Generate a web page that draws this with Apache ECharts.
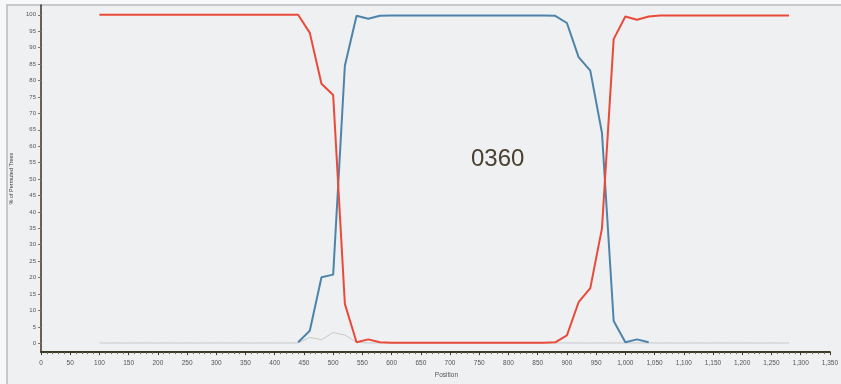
<!DOCTYPE html>
<html>
<head>
<meta charset="utf-8">
<script src="https://cdn.jsdelivr.net/npm/echarts@6/dist/echarts.min.js"></script>
<style>
  html, body { margin: 0; padding: 0; background: #f6f7f8; }
  #main { width: 841px; height: 384px; }
</style>
</head>
<body>
<div id="main"></div>
<script>
// window positions (bootscan, step 20)
const positions = [100, 120, 140, 160, 180, 200, 220, 240, 260, 280, 300, 320, 340, 360, 380, 400, 420, 440, 460, 480,
  500, 520, 540, 560, 580, 600, 620, 640, 660, 680, 700, 720, 740, 760, 780, 800, 820, 840, 860, 880,
  900, 920, 940, 960, 980, 1000, 1020, 1040, 1060, 1080, 1100, 1120, 1140, 1160, 1180, 1200, 1220, 1240, 1260, 1280];

const redValues = [100, 100, 100, 100, 100, 100, 100, 100, 100, 100, 100, 100, 100, 100, 100, 100, 100, 100, 94.5, 79,
  75.6, 12, 0.3, 1.2, 0.3, 0.2, 0.2, 0.2, 0.2, 0.2, 0.2, 0.2, 0.2, 0.2, 0.2, 0.2, 0.2, 0.2, 0.2, 0.3,
  2.4, 12.5, 16.8, 35, 92.6, 99.5, 98.5, 99.5, 99.8, 99.8, 99.8, 99.8, 99.8, 99.8, 99.8, 99.8, 99.8, 99.8, 99.8, 99.8];

const blueValues = [null, null, null, null, null, null, null, null, null, null, null, null, null, null, null, null, null, 0.3, 3.8, 20.1,
  20.9, 84.5, 99.7, 98.8, 99.7, 99.8, 99.8, 99.8, 99.8, 99.8, 99.8, 99.8, 99.8, 99.8, 99.8, 99.8, 99.8, 99.8, 99.8, 99.7,
  97.5, 87.1, 83, 64, 6.8, 0.3, 1.2, 0.3, null, null, null, null, null, null, null, null, null, null, null, null];

const grayValues = [0.1, 0.1, 0.1, 0.1, 0.1, 0.1, 0.1, 0.1, 0.1, 0.1, 0.1, 0.1, 0.1, 0.1, 0.1, 0.1, 0.1, 0.1, 1.8, 1.1,
  3.3, 2.5, 0.3, 0.1, 0.1, 0.1, 0.1, 0.1, 0.1, 0.1, 0.1, 0.1, 0.1, 0.1, 0.1, 0.1, 0.1, 0.1, 0.1, 0.1,
  0.1, 0.1, 0.1, 0.1, 0.1, 0.1, 0.1, 0.1, 0.1, 0.1, 0.1, 0.1, 0.1, 0.1, 0.1, 0.1, 0.1, 0.1, 0.1, 0.1];

const yTicks = [0, 5, 10, 15, 20, 25, 30, 35, 40, 45, 50, 55, 60, 65, 70, 75, 80, 85, 90, 95, 100];

const pairs = vals => positions.map((p, i) => [p, vals[i]]);

const chart = echarts.init(document.getElementById('main'));

const option = {
  backgroundColor: '#f6f7f8',
  animation: false,
  graphic: [
    {
      type: 'rect', z: -10, silent: true,
      shape: { x: 7, y: 5, width: 850, height: 400 },
      style: { fill: '#eef0f2', stroke: '#b9bbbd', lineWidth: 1.5 }
    },
    {
      type: 'text', left: 471, top: 147, z: 10,
      style: { text: '0360', fill: '#4a4030', font: '24px "Liberation Sans", Arial, sans-serif' }
    }
  ],
  grid: { left: 41, right: 8, top: 5, bottom: 24 },
  xAxis: {
    type: 'value',
    min: 0, max: 1350, interval: 50,
    name: 'Position',
    nameLocation: 'middle',
    nameGap: 14,
    nameTextStyle: { fontSize: 6.5, color: '#555', padding: [0, 0, 0, 22] },
    axisLine: { show: true, onZero: false, lineStyle: { color: '#3d3a28', width: 2 } },
    axisTick: { show: true, length: 3, lineStyle: { color: '#3d3a28' } },
    minorTick: { show: true, splitNumber: 5, length: 2, lineStyle: { color: '#6a6650' } },
    axisLabel: {
      fontSize: 6.5, color: '#555', margin: 8,
      formatter: v => v.toLocaleString('en-US')
    },
    splitLine: { show: false }
  },
  yAxis: {
    type: 'value',
    min: -2.68, max: 102.98,
    name: '% of Permuted Trees',
    nameLocation: 'middle',
    nameGap: 27,
    nameTextStyle: { fontSize: 5.5, color: '#444' },
    axisLine: { show: true, onZero: false, lineStyle: { color: '#3b2f22', width: 1.5 } },
    axisTick: { show: true, length: 3, customValues: yTicks, lineStyle: { color: '#777' } },
    axisLabel: { fontSize: 6, color: '#555', margin: 5, customValues: yTicks },
    splitLine: { show: false }
  },
  series: [
    {
      name: 'background', type: 'line', data: pairs(grayValues),
      symbol: 'none', lineStyle: { color: '#c9c9c9', width: 1 }, z: 1
    },
    {
      name: 'blue', type: 'line', data: pairs(blueValues),
      symbol: 'none', connectNulls: false,
      lineStyle: { color: '#4f84aa', width: 2 }, z: 2
    },
    {
      name: 'red', type: 'line', data: pairs(redValues),
      symbol: 'none', lineStyle: { color: '#ea4a3a', width: 2 }, z: 3
    }
  ]
};

chart.setOption(option);
</script>
</body>
</html>
